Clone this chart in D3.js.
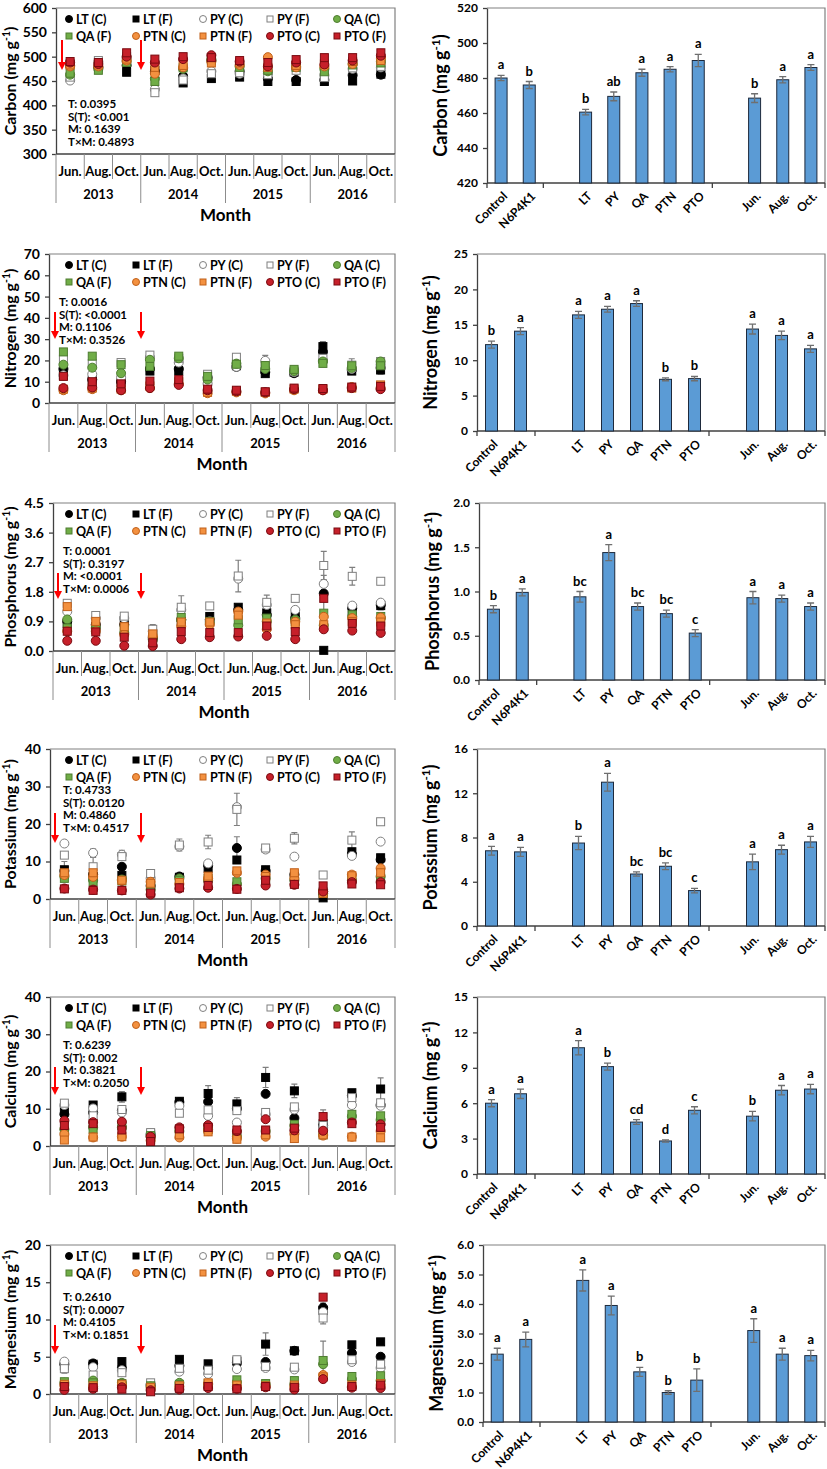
<!DOCTYPE html>
<html><head><meta charset="utf-8">
<script src="https://cdn.jsdelivr.net/npm/d3@7"></script>
<style>body{margin:0;background:#fff}svg text{font-family:Lato,"Open Sans",sans-serif;font-weight:700;fill:#000}</style>
</head><body><svg id="c" width="827" height="1469"></svg>
<script>
// ---------------- DATA ----------------
const monthLabels = ["Jun.","Aug.","Oct."];
const yearLabels = ["2013","2014","2015","2016"];
const seriesNames = ["LT (C)","LT (F)","PY (C)","PY (F)","QA (C)","QA (F)","PTN (C)","PTN (F)","PTO (C)","PTO (F)"];
const barCategories = ["Control","N6P4K1","","LT","PY","QA","PTN","PTO","","Jun.","Aug.","Oct."];
const elementNames = ["Carbon","Nitrogen","Phosphorus","Potassium","Calcium","Magnesium"];

// scatter values: rows = series (seriesNames order), cols = Jun13..Oct16
const carbonValues = [
 [482,478,482,470,460,492,470,455,452,452,462,463],
 [485,480,468,472,446,455,458,449,449,449,450,464],
 [451,490,497,433,455,470,465,465,475,462,475,478],
 [458,492,500,426,452,465,467,463,472,457,477,480],
 [463,475,490,455,475,495,480,470,480,475,485,490],
 [466,472,488,449,477,493,478,472,478,469,483,487],
 [480,480,492,465,478,490,483,499,478,480,485,497],
 [483,483,495,478,482,487,487,478,482,485,490,492],
 [488,485,500,488,495,503,490,480,488,484,492,502],
 [490,488,508,495,500,498,492,488,494,498,498,508]];
const nitrogenValues = [
 [16,11,10,16,16,12,17,14.5,14,24,15.5,16.5],
 [13,10.5,9.5,15,15,11,17.5,13.8,14.5,26.5,15,15.5],
 [13,13.5,12,21.5,19,9,17,19.8,14.5,20,16,18],
 [20.5,18.5,19,22.5,21,13.5,21.5,17,15,21,17.8,19.5],
 [18,16.6,14,20.3,21,11,18.5,16,15,19.5,16.5,19.5],
 [24,22,18,17.2,22,12.5,18.2,17.6,15.8,18.6,17.5,17.5],
 [6,6.5,6,7,9,4.6,5,4.5,6,6,7.5,7],
 [6.5,7,6.5,8,10,5,5.5,5,6.5,6.5,7,8.5],
 [7,7.3,6,7,8.5,6,5.5,5,6.5,6,7,6.5],
 [12.5,10,9,10.3,11,6.5,6,5.3,7,6.8,7.5,7.8]];
const phosphorusValues = [
 [0.9,0.8,0.8,0.4,0.95,0.95,1.25,1.1,1.0,1.75,1.3,1.4],
 [0.84,0.75,0.92,0.42,0.9,1.05,1.33,1.16,1.06,0.02,1.2,1.38],
 [1.2,1.0,1.0,0.6,1.25,0.9,2.2,1.4,1.25,2.04,1.38,1.47],
 [1.45,1.08,1.06,0.66,1.33,1.37,2.28,1.48,1.6,2.6,2.27,2.12],
 [0.96,0.7,0.55,0.35,0.95,0.85,0.78,0.9,0.95,0.78,1.05,1.0],
 [0.7,0.65,0.65,0.4,1.02,0.9,0.95,1.0,0.9,1.15,1.1,1.05],
 [0.6,0.6,0.5,0.45,0.75,0.8,1.2,0.66,0.89,1.04,1.0,1.02],
 [1.35,0.9,0.74,0.52,0.88,0.88,1.09,0.85,0.8,0.8,0.9,0.88],
 [0.31,0.31,0.16,0.15,0.36,0.42,0.44,0.46,0.36,0.66,0.62,0.55],
 [0.6,0.58,0.42,0.25,0.59,0.56,0.56,0.76,0.59,1.6,0.84,0.76]];
const potassiumValues = [
 [7.5,6.5,8.6,3.5,6.0,9.0,13.6,7.5,6.5,1.5,12.0,10.5],
 [7.8,6.0,6.3,3.0,5.8,8.2,10.4,7.8,6.0,0.3,12.6,11.0],
 [14.8,12.3,11.8,5.5,14.0,9.5,24.5,13.2,11.3,2.5,11.5,15.3],
 [11.7,8.6,11.3,6.8,14.4,15.2,23.9,13.6,16.2,6.4,15.7,20.6],
 [6.0,5.0,5.2,2.5,5.5,5.0,4.0,5.5,5.0,2.0,5.0,6.0],
 [5.5,4.6,4.8,3.2,5.0,5.5,4.6,5.0,5.0,1.5,5.5,5.5],
 [6.4,5.9,4.9,4.6,4.0,5.5,7.0,6.5,5.5,2.0,6.5,8.2],
 [7.0,7.0,5.0,4.2,4.4,6.1,7.5,6.0,7.0,1.5,6.2,7.0],
 [2.8,2.5,2.3,1.2,2.8,3.0,2.7,3.6,3.8,2.0,4.5,4.5],
 [2.7,2.3,2.3,1.6,3.0,3.6,2.6,5.0,3.9,3.5,4.0,3.8]];
const calciumValues = [
 [8.5,9.0,9.5,3.0,11.8,11.9,10.0,14.0,7.5,5.5,13.5,11.0],
 [9.7,11.0,13.2,3.2,12.0,14.1,11.3,18.4,14.8,6.0,14.3,15.3],
 [11.0,10.1,9.0,3.3,10.8,8.1,6.3,8.5,9.8,5.0,11.0,10.8],
 [11.5,8.1,9.8,3.6,8.8,9.7,9.5,9.0,10.5,5.5,13.0,11.6],
 [4.5,5.0,5.0,2.5,4.0,4.5,2.5,4.0,5.5,3.0,8.0,7.0],
 [3.8,4.5,5.5,2.8,4.0,4.5,3.0,4.0,5.8,3.0,8.5,8.1],
 [3.2,2.3,2.5,1.5,2.3,4.0,2.0,2.5,3.3,2.8,2.5,4.0],
 [1.6,2.4,2.5,1.8,3.0,3.8,1.8,3.0,2.0,3.0,2.4,2.2],
 [6.8,6.4,6.5,2.5,5.0,5.6,4.0,7.2,4.2,4.1,6.3,5.8],
 [5.5,6.0,4.3,1.2,4.6,5.0,4.3,4.3,4.8,7.9,6.0,5.0]];
const magnesiumValues = [
 [4.0,4.1,3.5,1.2,3.8,3.5,4.2,4.3,5.8,11.6,5.5,5.0],
 [3.8,4.0,4.35,1.1,4.65,4.05,4.4,6.7,5.8,11.2,6.6,7.0],
 [4.35,3.6,3.2,1.3,3.0,2.7,3.35,3.5,3.3,11.0,4.3,3.5],
 [3.4,2.55,2.86,1.5,3.45,3.2,4.6,3.7,3.6,10.2,4.6,4.0],
 [1.5,1.8,1.5,1.0,1.5,1.3,1.6,1.3,1.3,4.0,2.0,1.8],
 [1.65,1.5,1.4,1.1,1.3,1.4,1.9,1.4,1.8,4.5,2.35,2.45],
 [1.2,1.0,1.2,0.8,1.0,1.4,1.0,1.0,1.0,2.55,1.0,1.2],
 [1.3,1.1,1.3,0.9,1.1,1.5,1.2,1.1,1.2,2.3,1.2,1.4],
 [0.55,0.7,0.9,0.5,0.6,0.8,0.7,0.9,0.6,2.0,0.85,0.8],
 [1.0,0.85,0.65,0.3,0.76,1.0,0.7,1.0,0.9,13.0,1.0,1.2]];

// visible error bars: [series, month, error]
const carbonErrors = [[3,3,5],[2,1,4],[3,1,5]];
const nitrogenErrors = [[2,7,2.6],[1,9,2.3],[3,10,3],[1,11,2],[3,3,1.5],[3,0,1.5]];
const phosphorusErrors = [[3,6,0.48],[3,9,0.43],[3,10,0.27],[3,4,0.35],[3,7,0.22],[0,9,0.55],[3,3,0.14],[0,11,0.15]];
const potassiumErrors = [[3,6,4.3],[0,6,3.0],[3,10,2.2],[3,8,1.5],[3,4,1.6],[3,5,1.8],[2,1,1.0],[3,1,2.5],[2,2,1.2],[0,0,2.5]];
const calciumErrors = [[1,7,2.7],[1,5,2.1],[1,8,1.8],[1,2,1.4],[1,6,1.7],[9,9,1.8],[1,11,3],[2,8,1.0]];
const magnesiumErrors = [[1,7,1.5],[5,9,2.6],[3,9,0.8],[0,9,0.6],[3,0,0.6],[1,8,0.3]];

const carbonTicks = [300,350,400,450,500,550,600];
const nitrogenTicks = [0,10,20,30,40,50,60,70];
const phosphorusTicks = [0,0.9,1.8,2.7,3.6,4.5];
const potassiumTicks = [0,10,20,30,40];
const calciumTicks = [0,10,20,30,40];
const magnesiumTicks = [0,5,10,15,20];

const carbonStats = ["T: 0.0395","S(T): <0.001","M: 0.1639","T×M: 0.4893"];
const nitrogenStats = ["T: 0.0016","S(T): <0.0001","M: 0.1106","T×M: 0.3526"];
const phosphorusStats = ["T: 0.0001","S(T): 0.3197","M: <0.0001","T×M: 0.0006"];
const potassiumStats = ["T: 0.4733","S(T): 0.0120","M: 0.4860","T×M: 0.4517"];
const calciumStats = ["T: 0.6239","S(T): 0.002","M: 0.3821","T×M: 0.2050"];
const magnesiumStats = ["T: 0.2610","S(T): 0.0007","M: 0.4105","T×M: 0.1851"];

// bar charts (null = empty slot)
const carbonMeans = [480,476,null,460.5,469.5,483,485,490,null,468.5,479,486];
const carbonSE = [1.5,2,null,1.6,2.5,2,1.5,3.5,null,2.5,1.8,1.6];
const carbonLetters = ["a","b","","b","ab","a","a","a","","b","a","a"];
const nitrogenMeans = [12.2,14.1,null,16.4,17.2,18.0,7.3,7.4,null,14.4,13.5,11.6];
const nitrogenSE = [0.5,0.5,null,0.5,0.4,0.4,0.2,0.3,null,0.7,0.6,0.5];
const nitrogenLetters = ["b","a","","a","a","a","b","b","","a","a","a"];
const phosphorusMeans = [0.80,0.99,null,0.94,1.44,0.83,0.75,0.53,null,0.93,0.92,0.83];
const phosphorusSE = [0.04,0.04,null,0.06,0.09,0.04,0.04,0.04,null,0.07,0.04,0.04];
const phosphorusLetters = ["b","a","","bc","a","bc","bc","c","","a","a","a"];
const potassiumMeans = [6.8,6.7,null,7.5,13.0,4.7,5.4,3.2,null,5.8,6.9,7.6];
const potassiumSE = [0.4,0.4,null,0.6,0.8,0.2,0.3,0.2,null,0.7,0.4,0.5];
const potassiumLetters = ["a","a","","b","a","bc","bc","c","","a","a","a"];
const calciumMeans = [6.0,6.8,null,10.7,9.1,4.4,2.8,5.4,null,4.9,7.1,7.2];
const calciumSE = [0.3,0.4,null,0.6,0.3,0.2,0.1,0.3,null,0.4,0.4,0.4];
const calciumLetters = ["a","a","","a","b","cd","d","c","","b","a","a"];
const magnesiumMeans = [2.3,2.8,null,4.8,3.95,1.7,1.0,1.42,null,3.1,2.3,2.25];
const magnesiumSE = [0.2,0.25,null,0.36,0.32,0.15,0.06,0.38,null,0.4,0.2,0.18];
const magnesiumLetters = ["a","a","","a","a","b","b","b","","a","a","a"];

const carbonBarTicks = [420,440,460,480,500,520];
const nitrogenBarTicks = [0,5,10,15,20,25];
const phosphorusBarTicks = [0,0.5,1.0,1.5,2.0];
const potassiumBarTicks = [0,4,8,12,16];
const calciumBarTicks = [0,3,6,9,12,15];
const magnesiumBarTicks = [0,1,2,3,4,5,6];

// ---------------- PANELS ----------------
const panels = [
 {vals:carbonValues, errs:carbonErrors, ticks:carbonTicks, fmt:"d", stats:carbonStats,
  means:carbonMeans, se:carbonSE, letters:carbonLetters, bticks:carbonBarTicks, bfmt:"d"},
 {vals:nitrogenValues, errs:nitrogenErrors, ticks:nitrogenTicks, fmt:"d", stats:nitrogenStats,
  means:nitrogenMeans, se:nitrogenSE, letters:nitrogenLetters, bticks:nitrogenBarTicks, bfmt:"d"},
 {vals:phosphorusValues, errs:phosphorusErrors, ticks:phosphorusTicks, fmt:".1f", stats:phosphorusStats,
  means:phosphorusMeans, se:phosphorusSE, letters:phosphorusLetters, bticks:phosphorusBarTicks, bfmt:".1f"},
 {vals:potassiumValues, errs:potassiumErrors, ticks:potassiumTicks, fmt:"d", stats:potassiumStats,
  means:potassiumMeans, se:potassiumSE, letters:potassiumLetters, bticks:potassiumBarTicks, bfmt:"d"},
 {vals:calciumValues, errs:calciumErrors, ticks:calciumTicks, fmt:"d", stats:calciumStats,
  means:calciumMeans, se:calciumSE, letters:calciumLetters, bticks:calciumBarTicks, bfmt:"d"},
 {vals:magnesiumValues, errs:magnesiumErrors, ticks:magnesiumTicks, fmt:"d", stats:magnesiumStats,
  means:magnesiumMeans, se:magnesiumSE, letters:magnesiumLetters, bticks:magnesiumBarTicks, bfmt:".1f"}
];

// layout (pixels)
const layout = [
 {top:8,    lh:146, bh:175, lx:56, rx:487, statX:68, statY:100, a1:62, arrow:[32,62]},
 {top:254,  lh:149, bh:177, lx:49, rx:477, statX:59, statY:52,  a1:55, arrow:[58,85]},
 {top:503,  lh:148, bh:177, lx:53, rx:479, statX:63, statY:52,  a1:58, arrow:[70,96]},
 {top:749,  lh:150, bh:177, lx:50, rx:477, statX:63, statY:45,  a1:55, arrow:[64,94]},
 {top:997,  lh:149, bh:177, lx:50, rx:477, statX:63, statY:52,  a1:55, arrow:[70,98]},
 {top:1245, lh:149, bh:177, lx:50, rx:483, statX:63, statY:56,  a1:55, arrow:[80,109]}
];
const styles = [
 {shape:"c", fill:"#000000", stroke:"#000000"},
 {shape:"s", fill:"#000000", stroke:"#000000"},
 {shape:"c", fill:"#ffffff", stroke:"#7f7f7f"},
 {shape:"s", fill:"#ffffff", stroke:"#7f7f7f"},
 {shape:"c", fill:"#70AD47", stroke:"#4E7D30"},
 {shape:"s", fill:"#70AD47", stroke:"#4E7D30"},
 {shape:"c", fill:"#F39140", stroke:"#C0601A"},
 {shape:"s", fill:"#F39140", stroke:"#C0601A"},
 {shape:"c", fill:"#C6202A", stroke:"#7A0A10"},
 {shape:"s", fill:"#C6202A", stroke:"#7A0A10"}
];
const AX = "#404040", BOX = "#808080";
const svg = d3.select("#c");

function marker(g, st, cx, cy, size) {
  if (st.shape === "c") {
    g.append("circle").attr("cx", cx).attr("cy", cy).attr("r", size/2)
      .attr("fill", st.fill).attr("stroke", st.stroke).attr("stroke-width", 1);
  } else {
    g.append("rect").attr("x", cx - size/2 + 0.5).attr("y", cy - size/2 + 0.5)
      .attr("width", size - 1).attr("height", size - 1)
      .attr("fill", st.fill).attr("stroke", st.stroke).attr("stroke-width", 1);
  }
}
function yLabel(g, name, x, y, fs) {
  const t = g.append("text").attr("transform", `translate(${x},${y}) rotate(-90)`)
    .attr("text-anchor", "middle").attr("font-size", fs);
  t.append("tspan").text(name + " (mg g");
  t.append("tspan").attr("font-size", fs * 0.65).attr("dy", -fs * 0.38).text("-1");
  t.append("tspan").attr("dy", fs * 0.38).text(")");
}
function styleAxis(a, fs) {
  a.selectAll("text").attr("font-size", fs).attr("font-family", "Lato").attr("font-weight", 700).attr("fill", "#000");
  a.select(".domain").attr("stroke", AX).attr("stroke-width", 1.3);
  a.selectAll(".tick line").attr("stroke", AX).attr("stroke-width", 1.3);
}

function drawScatter(p, L, name) {
  const g = svg.append("g");
  const right = 395, bottom = L.top + L.lh;
  const y = d3.scaleLinear().domain([p.ticks[0], p.ticks[p.ticks.length - 1]]).range([bottom, L.top]);
  const x = d3.scaleBand().domain(d3.range(12)).range([L.lx, right]);
  const bw = x.bandwidth();
  g.append("path").attr("d", `M${L.lx},${L.top}H${right}V${bottom}`).attr("fill", "none").attr("stroke", BOX).attr("stroke-width", 1.2);
  const ya = g.append("g").attr("transform", `translate(${L.lx},0)`)
    .call(d3.axisLeft(y).tickValues(p.ticks).tickSize(4).tickSizeOuter(0).tickPadding(5).tickFormat(d3.format(p.fmt)));
  styleAxis(ya, 14);
  g.append("line").attr("x1", L.lx).attr("x2", right).attr("y1", bottom).attr("y2", bottom).attr("stroke", AX).attr("stroke-width", 1.3);
  for (let i = 0; i <= 12; i++) {
    const xx = L.lx + i * x.step();
    g.append("line").attr("x1", xx).attr("x2", xx).attr("y1", bottom).attr("y2", bottom + (i % 3 === 0 ? 49 : 25))
      .attr("stroke", "#8c8c8c").attr("stroke-width", 1);
  }
  for (let i = 0; i < 12; i++) {
    g.append("text").attr("x", x(i) + bw / 2).attr("y", bottom + 22).attr("text-anchor", "middle")
      .attr("font-size", 13).text(monthLabels[i % 3]);
  }
  yearLabels.forEach((yr, j) => {
    g.append("text").attr("x", L.lx + (3 * j + 1.5) * x.step()).attr("y", bottom + 45).attr("text-anchor", "middle")
      .attr("font-size", 13).text(yr);
  });
  g.append("text").attr("x", (L.lx + right) / 2).attr("y", bottom + 67).attr("text-anchor", "middle")
    .attr("font-size", 17).text("Month");
  yLabel(g, name, 16, (L.top + bottom) / 2, 16);

  // error bars
  p.errs.forEach(([s, m, e]) => {
    const cx = x(m) + bw / 2, v = p.vals[s][m];
    g.append("path").attr("d", `M${cx},${y(v + e)}V${y(Math.max(v - e, p.ticks[0]))}M${cx - 3},${y(v + e)}H${cx + 3}` +
      (v - e > p.ticks[0] ? `M${cx - 3},${y(v - e)}H${cx + 3}` : ""))
      .attr("stroke", "#7f7f7f").attr("stroke-width", 1.2).attr("fill", "none");
  });
  // markers
  p.vals.forEach((row, s) => {
    row.forEach((v, m) => marker(g, styles[s], x(m) + bw / 2, y(v), 9));
  });
  // legend
  seriesNames.forEach((nm, i) => {
    const col = i % 5, row = Math.floor(i / 5);
    const lx = 69 + col * 67, ly = L.top + 11 + row * 17;
    marker(g, styles[i], lx, ly, 7);
    g.append("text").attr("x", lx + 7).attr("y", ly + 4.5).attr("font-size", 12.5).text(nm);
  });
  // stats
  p.stats.forEach((s, k) => {
    g.append("text").attr("x", L.statX).attr("y", L.top + L.statY + k * 12.5).attr("font-size", 11.5).text(s);
  });
  // arrows
  [L.a1, 141].forEach(ax => {
    const y0 = L.top + L.arrow[0], y1 = L.top + L.arrow[1];
    g.append("line").attr("x1", ax).attr("x2", ax).attr("y1", y0).attr("y2", y1 - 6)
      .attr("stroke", "#FF0000").attr("stroke-width", 2);
    g.append("path").attr("d", `M${ax - 4},${y1 - 8}L${ax + 4},${y1 - 8}L${ax},${y1}Z`).attr("fill", "#FF0000");
  });
}

function drawBars(p, L, name) {
  const g = svg.append("g");
  const top = L.top, bottom = L.top + L.bh, left = L.rx, right = 825;
  const y = d3.scaleLinear().domain([p.bticks[0], p.bticks[p.bticks.length - 1]]).range([bottom, top]);
  const x = d3.scaleBand().domain(d3.range(12)).range([left, right]);
  const bw = x.bandwidth();
  g.append("path").attr("d", `M${left},${top}H${right}V${bottom}`).attr("fill", "none").attr("stroke", BOX).attr("stroke-width", 1.2);
  const ya = g.append("g").attr("transform", `translate(${left},0)`)
    .call(d3.axisLeft(y).tickValues(p.bticks).tickSize(4).tickSizeOuter(0).tickPadding(5).tickFormat(d3.format(p.bfmt)));
  styleAxis(ya, 12);
  g.append("line").attr("x1", left).attr("x2", right).attr("y1", bottom).attr("y2", bottom).attr("stroke", AX).attr("stroke-width", 1.3);
  [0, 2, 8, 12].forEach(k => {
    const xx = left + k * x.step();
    g.append("line").attr("x1", xx).attr("x2", xx).attr("y1", bottom).attr("y2", bottom + 5).attr("stroke", AX).attr("stroke-width", 1.3);
  });
  p.means.forEach((m, i) => {
    if (m === null) return;
    const cx = x(i) + bw / 2, e = p.se[i];
    g.append("rect").attr("x", cx - 6).attr("y", y(m)).attr("width", 12).attr("height", bottom - y(m))
      .attr("fill", "#5B9BD5").attr("stroke", "#1E2A3C").attr("stroke-width", 1);
    g.append("path").attr("d", `M${cx},${y(m + e)}V${y(m - e)}M${cx - 3.5},${y(m + e)}H${cx + 3.5}M${cx - 3.5},${y(m - e)}H${cx + 3.5}`)
      .attr("stroke", "#6f6f6f").attr("stroke-width", 1.3).attr("fill", "none");
    g.append("text").attr("x", cx).attr("y", y(m + e) - 6).attr("text-anchor", "middle").attr("font-size", 13).text(p.letters[i]);
  });
  barCategories.forEach((c, i) => {
    if (!c) return;
    const cx = x(i) + bw / 2;
    g.append("text").attr("transform", `translate(${cx + 4},${bottom + 11}) rotate(-45)`)
      .attr("text-anchor", "end").attr("dy", "0.35em").attr("font-size", 12).text(c);
  });
  yLabel(g, name, left - 40, (top + bottom) / 2, 18);
}

panels.forEach((p, i) => {
  drawScatter(p, layout[i], elementNames[i]);
  drawBars(p, layout[i], elementNames[i]);
});
</script></body></html>
